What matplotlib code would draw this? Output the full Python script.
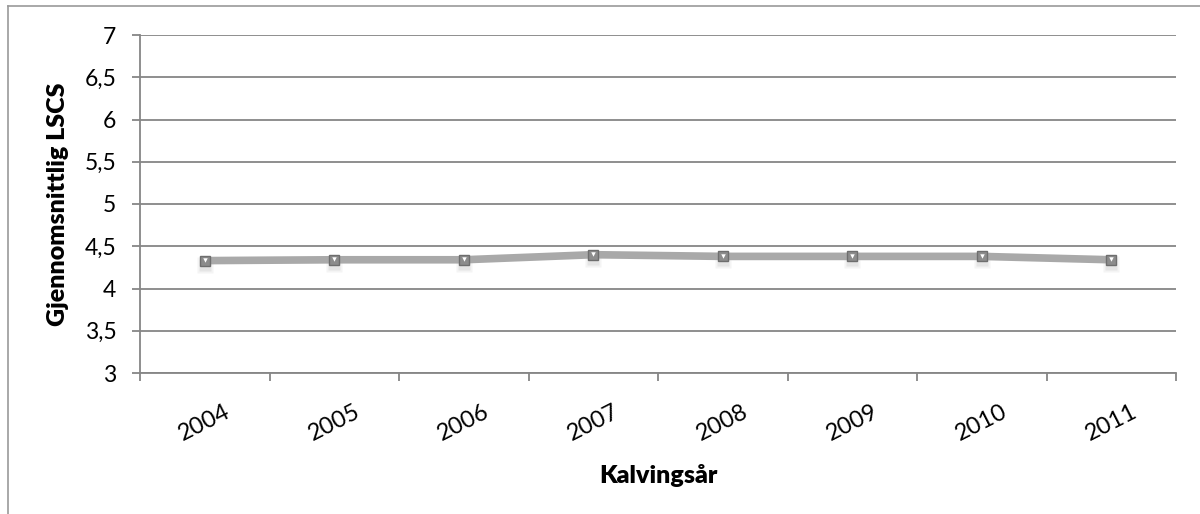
import numpy as np
import matplotlib
matplotlib.use("Agg")
from matplotlib import pyplot as plt
from matplotlib.lines import Line2D
from matplotlib import transforms

years = ["2004", "2005", "2006", "2007", "2008", "2009", "2010", "2011"]
lscs = [4.33, 4.34, 4.34, 4.40, 4.38, 4.38, 4.38, 4.34]
y_ticks = [3, 3.5, 4, 4.5, 5, 5.5, 6, 6.5, 7]
y_labels = ["3", "3,5", "4", "4,5", "5", "5,5", "6", "6,5", "7"]

plt.rcParams['font.family'] = ['Lato', 'DejaVu Sans']
grey = "#868686"

fig = plt.figure(figsize=(12, 5.14), dpi=100)
ax = fig.add_axes([140/1200, 1 - 373/514, (1176 - 140)/1200, (373 - 35)/514])

x = np.arange(len(years))
# soft shadow under the markers
for k, a in [(11, 0.15), (9, 0.25)]:
    ax.plot(x, lscs, ls="none", marker="s", ms=k, color="#bbbbbb", mec="none", alpha=a,
            transform=ax.transData + transforms.ScaledTranslation(0, -4/100, fig.dpi_scale_trans),
            zorder=2)
ax.plot(x, lscs, color="#a9a9a9", lw=5.5, solid_capstyle="butt", zorder=3)
ax.plot(x, lscs, ls="none", marker="s", ms=7.5, mfc="#8c8c8c", mec="#6e6e6e", mew=1, zorder=4)
ax.plot(x, np.array(lscs) + 0.008, ls="none", marker="v", ms=3.2, mfc="white", mec="none", zorder=5)

ax.set_xlim(-0.5, len(years) - 0.5)
ax.set_ylim(3, 7)
ax.set_yticks(y_ticks)
ax.set_yticklabels(y_labels, fontsize=16.5)
ax.set_xticks(x)
ax.set_xticklabels(years, fontsize=17, rotation=27, ha="center")
shift = transforms.ScaledTranslation(-17/100, -3/100, fig.dpi_scale_trans)
for lab in ax.get_xticklabels():
    lab.set_transform(lab.get_transform() + shift)
ax.tick_params(axis="x", which="major", length=0, pad=20)
ax.set_xticks(np.arange(len(years) + 1) - 0.5, minor=True)
ax.tick_params(axis="x", which="minor", length=6, width=1.3, color=grey, direction="out")
ax.tick_params(axis="y", length=6, width=1.3, color=grey, direction="out", pad=11)

ax.grid(axis="y", color=grey, lw=1.3)
ax.set_axisbelow(True)
for side in ["top", "right"]:
    ax.spines[side].set_visible(False)
for side in ["left", "bottom"]:
    ax.spines[side].set_color(grey)
    ax.spines[side].set_linewidth(1.3)

ax.set_ylabel("Gjennomsnittlig LSCS", fontsize=18, fontweight="heavy")
ax.yaxis.set_label_coords(-0.069, 0.5)
ax.set_xlabel("Kalvingsår", fontsize=18, fontweight="heavy")
ax.xaxis.set_label_coords(0.5, -0.27)

# chart border
fig.add_artist(Line2D([8/1200, 8/1200], [0, 1 - 6/514], color="#9a9a9a", lw=1.2))
fig.add_artist(Line2D([8/1200, 1], [1 - 6/514, 1 - 6/514], color="#9a9a9a", lw=1.2))

fig.savefig("out.png", dpi=100)
